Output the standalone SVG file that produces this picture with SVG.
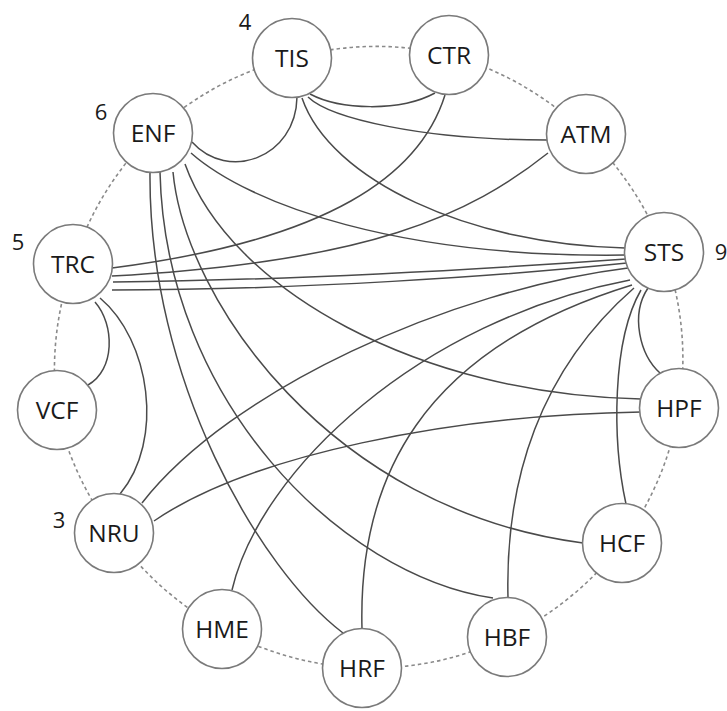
<svg xmlns="http://www.w3.org/2000/svg" width="727" height="711" viewBox="0 0 727 711">
<style>
.ring{fill:none;stroke:#8a8a8a;stroke-width:1.6;stroke-dasharray:3.5,3}
.e{fill:none;stroke:#4a4a4a;stroke-width:1.5}
.n circle{fill:#fff;stroke:#7a7a7a;stroke-width:1.6}
.n text{font-family:"Open Sans","Noto Sans",sans-serif;font-size:24.5px;fill:#1a1a1a;text-anchor:middle}
.d{font-family:"Open Sans","Noto Sans",sans-serif;font-size:22px;fill:#1a1a1a;text-anchor:middle}
</style>
<rect width="727" height="711" fill="#fff"/>
<g id="ring">
<path class="ring" d="M292,58 A312,312 0 0 1 449,55 A312,312 0 0 1 586,134 A312,312 0 0 1 664,252 A312,312 0 0 1 679,408 A312,312 0 0 1 622,543 A312,312 0 0 1 507,637 A312,312 0 0 1 362,668 A312,312 0 0 1 222,629 A312,312 0 0 1 114,533 A312,312 0 0 1 57,410 A312,312 0 0 1 73,264 A312,312 0 0 1 153,133 A312,312 0 0 1 292,58"/>
</g>
<g id="connectors">
<path class="e" d="M297,97 C296,158 228,182 192,142"/>
<path class="e" d="M310,94 C340,110 400,112 435,93"/>
<path class="e" d="M308,97 C330,118 420,140 547,140"/>
<path class="e" d="M302,98 C330,180 470,245 625,248"/>
<path class="e" d="M191,153 C250,205 400,258 625,255"/>
<path class="e" d="M445,95 C420,175 330,240 112,268"/>
<path class="e" d="M548,153 C470,215 370,262 112,276"/>
<path class="e" d="M113,282 C300,280 500,268 626,259"/>
<path class="e" d="M112,290 C300,290 500,276 627,263"/>
<path class="e" d="M142,503 C230,390 450,290 628,268"/>
<path class="e" d="M154,521 C250,455 450,415 641,412"/>
<path class="e" d="M185,164 C230,290 420,395 641,399"/>
<path class="e" d="M173,172 C185,300 330,510 583,543"/>
<path class="e" d="M160,172 C165,400 340,575 493,598"/>
<path class="e" d="M150,172 C148,380 260,570 343,633"/>
<path class="e" d="M648,288 C630,315 640,355 660,373"/>
<path class="e" d="M626,504 C612,440 612,340 641,290"/>
<path class="e" d="M508,598 C505,480 540,370 634,288"/>
<path class="e" d="M362,629 C358,480 420,350 632,285"/>
<path class="e" d="M232,590 C260,470 420,320 630,280"/>
<path class="e" d="M100,298 C150,340 165,440 120,494"/>
<path class="e" d="M95,302 C115,325 115,370 88,385"/>
</g>
<g id="TIS" class="n"><circle cx="292" cy="58" r="39.5"/><text x="292" y="67">TIS</text></g>
<g id="CTR" class="n"><circle cx="449" cy="55" r="39.5"/><text x="449" y="64">CTR</text></g>
<g id="ATM" class="n"><circle cx="586" cy="134" r="39.5"/><text x="586" y="143">ATM</text></g>
<g id="STS" class="n"><circle cx="664" cy="252" r="39.5"/><text x="664" y="261">STS</text></g>
<g id="HPF" class="n"><circle cx="679" cy="408" r="39.5"/><text x="679" y="417">HPF</text></g>
<g id="HCF" class="n"><circle cx="622" cy="543" r="39.5"/><text x="622" y="552">HCF</text></g>
<g id="HBF" class="n"><circle cx="507" cy="637" r="39.5"/><text x="507" y="646">HBF</text></g>
<g id="HRF" class="n"><circle cx="362" cy="668" r="39.5"/><text x="362" y="677">HRF</text></g>
<g id="HME" class="n"><circle cx="222" cy="629" r="39.5"/><text x="222" y="638">HME</text></g>
<g id="NRU" class="n"><circle cx="114" cy="533" r="39.5"/><text x="114" y="542">NRU</text></g>
<g id="VCF" class="n"><circle cx="57" cy="410" r="39.5"/><text x="57" y="419">VCF</text></g>
<g id="TRC" class="n"><circle cx="73" cy="264" r="39.5"/><text x="73" y="273">TRC</text></g>
<g id="ENF" class="n"><circle cx="153" cy="133" r="39.5"/><text x="153" y="142">ENF</text></g>
<g id="degrees">
<text class="d" x="245" y="30">4</text>
<text class="d" x="101" y="120">6</text>
<text class="d" x="18" y="250">5</text>
<text class="d" x="59" y="528">3</text>
<text class="d" x="721" y="260">9</text>
</g>
</svg>
